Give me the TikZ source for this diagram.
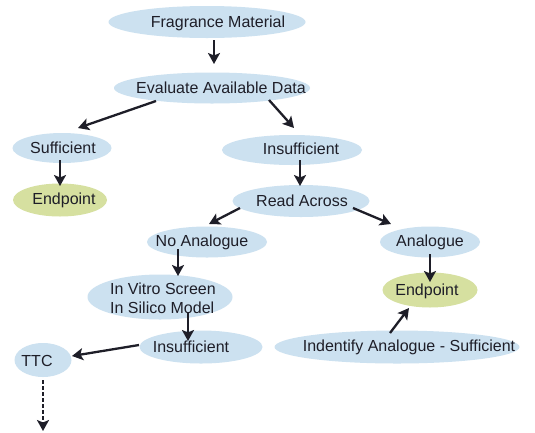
\documentclass[tikz,border=0pt]{standalone}
\usepackage{fontspec}
\setmainfont{Liberation Sans}
\usetikzlibrary{shapes.geometric,arrows.meta,calc}
\definecolor{blobblue}{RGB}{204,225,240}
\definecolor{blobgreen}{RGB}{214,224,160}
\definecolor{ink}{RGB}{30,30,40}
\begin{document}
\begin{tikzpicture}[x=1pt,y=-1pt,
  blob/.style={ellipse, fill=blobblue, draw=none, inner sep=0pt},
  gblob/.style={blob, fill=blobgreen},
  lbl/.style={font=\fontsize{16}{19}\selectfont, text=ink, inner sep=0pt},
  arr/.style={-{Stealth[length=11pt,width=12pt,inset=2.5pt]}, line width=2.3pt, draw=ink},
  darr/.style={arr, dash pattern=on 3.5pt off 2.5pt}]
\useasboundingbox (0,0) rectangle (535,432);
\fill[white] (0,0) rectangle (535,432);
% ellipses
\node[blob, minimum width=197, minimum height=32] (frag) at (207,22) {};
\node[blob, minimum width=196, minimum height=31] (eval) at (212,88) {};
\node[blob, minimum width=99, minimum height=30] (suff) at (62,148) {};
\node[gblob, minimum width=94, minimum height=33] (end1) at (60,200) {};
\node[blob, minimum width=140, minimum height=30] (insuff) at (292,150) {};
\node[blob, minimum width=137, minimum height=32] (read) at (301,201) {};
\node[blob, minimum width=120, minimum height=31] (noanal) at (207,242) {};
\node[blob, minimum width=145, minimum height=45] (invitro) at (160,297) {};
\node[blob, minimum width=123, minimum height=33] (insuff2) at (201,347) {};
\node[blob, minimum width=57, minimum height=34] (ttc) at (43,360) {};
\node[blob, minimum width=100, minimum height=31] (anal) at (430,242) {};
\node[gblob, minimum width=95, minimum height=35] (end2) at (430,290) {};
\node[blob, minimum width=245, minimum height=33] (ident) at (397,347) {};
% texts
\node[lbl] (fragT) at (218,23) {Fragrance Material};
\node[lbl] (evalT) at (221,88) {Evaluate Available Data};
\node[lbl] (suffT) at (63,148) {Sufficient};
\node[lbl] (end1T) at (64,200) {Endpoint};
\node[lbl] (insuffT) at (301,149) {Insufficient};
\node[lbl] (readT) at (302,201) {Read Across};
\node[lbl] (noanalT) at (202,242) {No Analogue};
\node[lbl, align=left, anchor=west] (invitroT) at (110,298) {In Vitro Screen\\In Silico Model};
\node[lbl] (insuff2T) at (191,347) {Insufficient};
\node[lbl] (ttcT) at (37,361) {TTC};
\node[lbl] (analT) at (430,242) {Analogue};
\node[lbl] (end2T) at (427,291) {Endpoint};
\node[lbl] (identT) at (409,347) {Indentify Analogue - Sufficient};
\coordinate (ttcout) at (43,431);
% arrows
\draw[arr] ($(frag)+(7,18)$) -- ($(eval)+(2,-24)$);
\draw[arr] ($(eval)+(-56,13)$) -- ($(suff)+(16,-20)$);
\draw[arr] ($(eval)+(57,12)$) -- ($(insuff)+(2,-22)$);
\draw[arr] ($(suff)+(-2,12)$) -- ($(end1)+(0,-14)$);
\draw[arr] ($(insuff)+(8,10)$) -- ($(read)+(-1,-15)$);
\draw[arr] ($(read)+(-61,7)$) -- ($(noanal)+(2,-18)$);
\draw[arr] ($(read)+(52,7)$) -- ($(anal)+(-39,-18)$);
\draw[arr] ($(noanal)+(-29,7)$) -- ($(invitro)+(18,-21)$);
\draw[arr] ($(invitro)+(28,15)$) -- ($(insuff2)+(-13,-6)$);
\draw[arr] ($(insuff2)+(-62,-2)$) -- ($(ttc)+(29,-4)$);
\draw[darr] ($(ttc)+(0,20)$) -- (ttcout);
\draw[arr] ($(anal)+(0,12)$) -- ($(end2)+(0,-8)$);
\draw[arr] ($(ident)+(-7,-14)$) -- ($(end2)+(-21,18)$);
\end{tikzpicture}
\end{document}
